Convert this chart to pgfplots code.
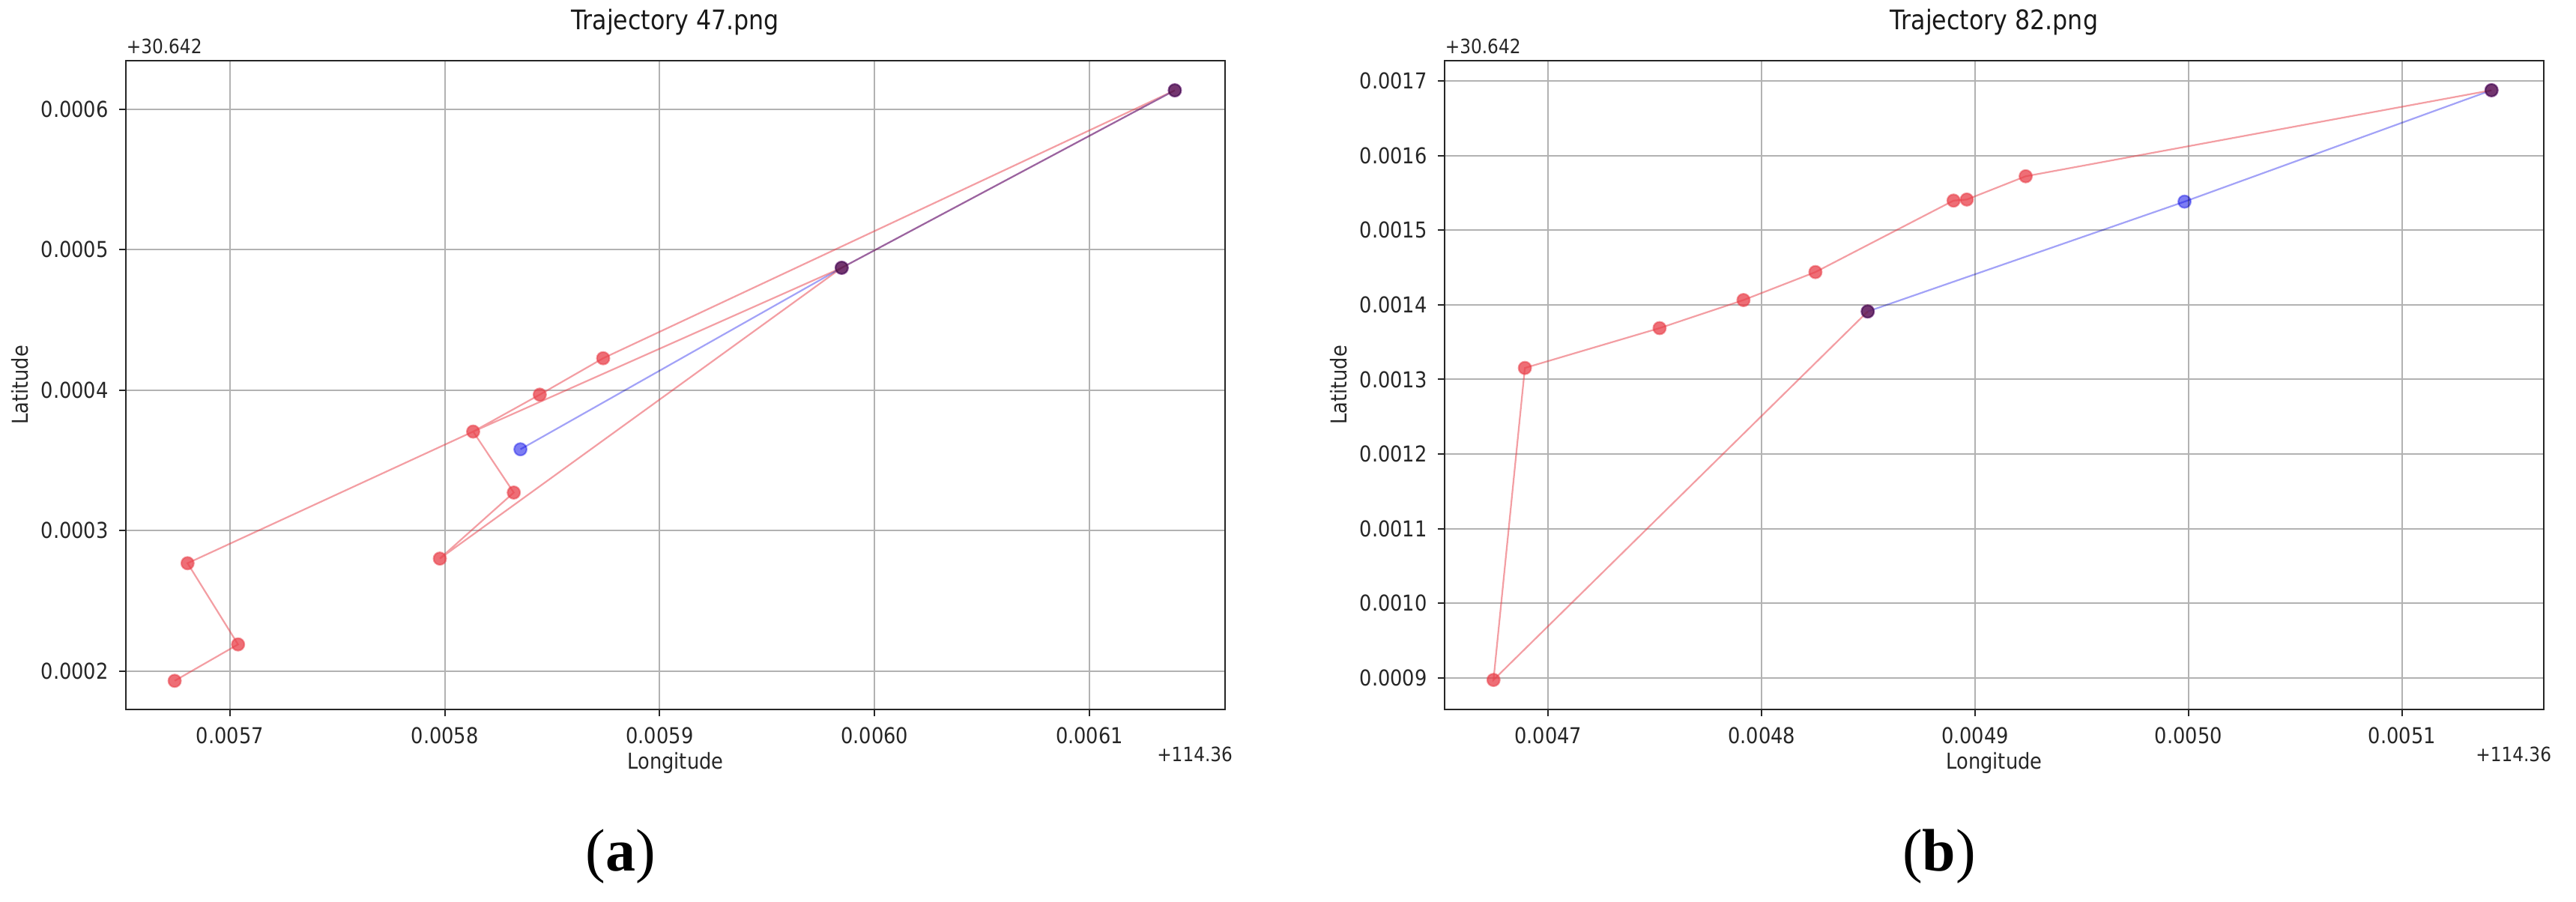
\documentclass[border=0pt]{standalone}
\usepackage{fontspec}
\setmainfont{DejaVu Sans}[FakeStretch=0.88]
\newfontfamily\capfont{Liberation Serif}
\usepackage{pgfplots}
\pgfplotsset{compat=1.18}
\definecolor{tred}{RGB}{232,62,72}
\definecolor{tblue}{RGB}{70,70,240}
\definecolor{gridc}{RGB}{178,178,178}
\pgfplotsset{traj/.style={
  scale only axis, width=366.75pt, height=216.5pt,
  clip=false,
  axis line style={black!85, line width=0.7pt},
  grid=major, major grid style={gridc, line width=0.5pt},
  tick align=outside, tick pos=left, major tick length=2.3pt,
  tick style={black!85, line width=0.5pt},
  scaled ticks=false,
  /pgf/number format/fixed, /pgf/number format/fixed zerofill,
  /pgf/number format/precision=4,
  /pgf/number format/assume math mode=true,
  ticklabel style={font=\fontsize{7.3}{8.5}\selectfont, text=black!85},
  xlabel=Longitude, ylabel=Latitude,
  xlabel style={font=\fontsize{7.3}{9}\selectfont, text=black!85, at={(axis description cs:0.5,-0.082)}, anchor=center},
  ylabel style={font=\fontsize{7.3}{9}\selectfont, text=black!85, at={(axis description cs:-0.0965,0.5)}, anchor=center},
  title style={font=\fontsize{9}{11}\selectfont, text=black!90, at={(axis description cs:0.5,1.032)}, anchor=center},
  redline/.style={color=tred, draw opacity=0.5, line width=0.55pt, mark=none},
  redmarks/.style={color=tred, draw opacity=0.5, line width=0.55pt, only marks, mark=*, mark size=2.1pt,
    mark options={draw=none, fill=tred, fill opacity=0.75}},
  redtraj/.style={color=tred, draw opacity=0.5, line width=0.55pt, mark=*, mark size=2.1pt,
    mark options={draw=none, fill=tred, fill opacity=0.75}},
  bluetraj/.style={color=tblue, draw opacity=0.5, line width=0.55pt, mark=*, mark size=2.1pt,
    mark options={draw=none, fill=tblue, fill opacity=0.7}, blend mode=multiply},
}}
\begin{document}
\begin{tikzpicture}
\path[use as bounding box] (0,0) rectangle (859.5pt,300.75pt);
% ---------- (a) ----------
\begin{axis}[traj, at={(42pt,64pt)}, anchor=south west,
  title={Trajectory 47.png},
  xmin=0.0056516, xmax=0.0061631, ymin=0.0001726, ymax=0.0006344,
  xtick={0.0057,0.0058,0.0059,0.0060,0.0061},
  ytick={0.0002,0.0003,0.0004,0.0005,0.0006}]
% red trajectory path
\addplot[redline] coordinates {
 (0.0056743,0.0001930) (0.0057038,0.0002189) (0.0056803,0.0002767)
 (0.0058132,0.0003704) (0.0058442,0.0003967) (0.0058737,0.0004226)
 (0.0061397,0.0006133) (0.0059847,0.0004870) (0.0058132,0.0003704)
 (0.0058321,0.0003270) (0.0057977,0.0002800) (0.0059847,0.0004870)};
% red trajectory points (each once)
\addplot[redmarks] coordinates {
 (0.0056743,0.0001930) (0.0057038,0.0002189) (0.0056803,0.0002767)
 (0.0058132,0.0003704) (0.0058442,0.0003967) (0.0058737,0.0004226)
 (0.0061397,0.0006133) (0.0059847,0.0004870)
 (0.0058321,0.0003270) (0.0057977,0.0002800)};
\addplot[bluetraj] coordinates {
 (0.0058352,0.0003578) (0.0059847,0.0004870) (0.0061397,0.0006133)};
\node[anchor=south west, inner sep=0pt, font=\fontsize{6.6}{8}\selectfont, text=black!85]
  at ([yshift=2pt]rel axis cs:0,1) {+30.642};
\node[anchor=east, inner sep=0pt, font=\fontsize{6.6}{8}\selectfont, text=black!85]
  at ([xshift=2.7pt,yshift=-15pt]rel axis cs:1,0) {+114.36};
\end{axis}
% ---------- (b) ----------
\begin{axis}[traj, at={(482pt,64pt)}, anchor=south west,
  title={Trajectory 82.png},
  xmin=0.0046515, xmax=0.0051664, ymin=0.0008576, ymax=0.0017271,
  xtick={0.0047,0.0048,0.0049,0.0050,0.0051},
  ytick={0.0009,0.0010,0.0011,0.0012,0.0013,0.0014,0.0015,0.0016,0.0017}]
\addplot[redtraj] coordinates {
 (0.0048497,0.0013910) (0.0046744,0.0008972) (0.0046891,0.0013153)
 (0.0047522,0.0013687) (0.0047915,0.0014063) (0.0048252,0.0014438)
 (0.0048899,0.0015396) (0.0048961,0.0015410) (0.0049237,0.0015722)
 (0.0051419,0.0016875)};
\addplot[bluetraj] coordinates {
 (0.0048497,0.0013910) (0.0049981,0.0015382) (0.0051419,0.0016875)};
\node[anchor=south west, inner sep=0pt, font=\fontsize{6.6}{8}\selectfont, text=black!85]
  at ([yshift=2pt]rel axis cs:0,1) {+30.642};
\node[anchor=east, inner sep=0pt, font=\fontsize{6.6}{8}\selectfont, text=black!85]
  at ([xshift=2.7pt,yshift=-15pt]rel axis cs:1,0) {+114.36};
\end{axis}
\node[font=\capfont\fontsize{20}{22}\selectfont] at (207pt,15pt) {(\textbf{a})};
\node[font=\capfont\fontsize{20}{22}\selectfont] at (647pt,15pt) {(\textbf{b})};
\end{tikzpicture}
\end{document}
